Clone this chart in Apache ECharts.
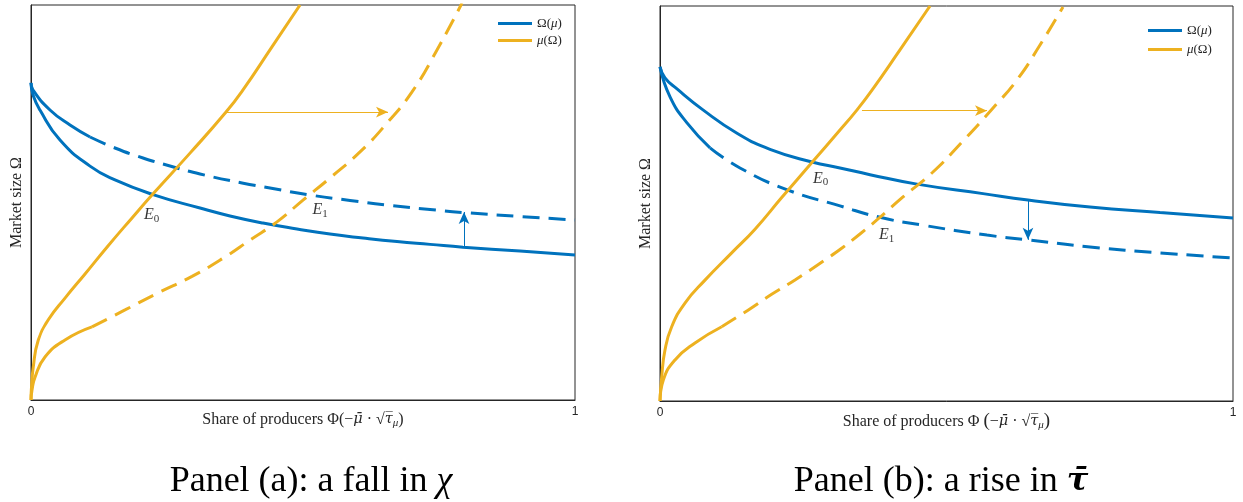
<!DOCTYPE html>
<html><head><meta charset="utf-8">
<script src="https://cdn.jsdelivr.net/npm/echarts@6/dist/echarts.min.js"></script>
<style>html,body{margin:0;padding:0;background:#fff}#c{width:1243px;height:502px}</style>
</head><body><div id="c"></div>
<script>
// ---------- Panel (a): a fall in chi ----------
const omega0A = [[0,0.803],[0.0037,0.772],[0.0165,0.734],[0.0533,0.658],[0.1085,0.592],[0.1544,0.557],[0.2243,0.52],[0.3107,0.486],[0.3658,0.466],[0.4265,0.448],[0.489,0.433],[0.5496,0.42],[0.6103,0.41],[0.6728,0.401],[0.7335,0.394],[0.7941,0.387],[0.8989,0.377],[1,0.367]];
const omega1A = [[0,0.8025],[0.0037,0.7848],[0.0349,0.7342],[0.0717,0.6962],[0.1085,0.6658],[0.1544,0.638],[0.2059,0.6127],[0.2555,0.5924],[0.3107,0.5722],[0.3879,0.5494],[0.4393,0.5367],[0.5129,0.519],[0.5864,0.5051],[0.6599,0.4924],[0.7335,0.4823],[0.7941,0.4747],[0.8989,0.4646],[1,0.4557]];
const mu0A = [[0,0],[0.0006,0.025],[0.0042,0.084],[0.0134,0.152],[0.0318,0.203],[0.0625,0.258],[0.0993,0.319],[0.1415,0.39],[0.1857,0.461],[0.2224,0.519],[0.2923,0.625],[0.3585,0.729],[0.3897,0.785],[0.442,0.892],[0.4945,1.0]];
const mu1A = [[0,0],[0.0018,0.025],[0.0074,0.058],[0.0257,0.109],[0.0625,0.152],[0.1121,0.185],[0.1728,0.228],[0.2335,0.271],[0.296,0.313],[0.3566,0.362],[0.4026,0.405],[0.4522,0.451],[0.5,0.506],[0.5496,0.562],[0.6048,0.628],[0.6544,0.701],[0.7004,0.78],[0.7463,0.886],[0.7923,1.005]];
const muArrowA = [[0.3603,0.729],[0.6563,0.729]];
const omegaArrowA = [[0.796,0.387],[0.796,0.476]];
const eqLabelsA = [[0.2219,0.468,'0'],[0.5313,0.481,'1']];

// ---------- Panel (b): a rise in tau-bar ----------
const omega0B = [[0,0.846],[0.0087,0.818],[0.0297,0.79],[0.075,0.737],[0.1344,0.678],[0.192,0.637],[0.2653,0.605],[0.3141,0.59],[0.3665,0.573],[0.4485,0.549],[0.5637,0.525],[0.6422,0.509],[0.7504,0.491],[0.8726,0.477],[1,0.463]];
const omega1B = [[0,0.846],[0.0175,0.77],[0.0471,0.704],[0.0873,0.641],[0.1396,0.59],[0.2234,0.534],[0.3141,0.494],[0.3839,0.465],[0.459,0.445],[0.5707,0.42],[0.6422,0.408],[0.7504,0.39],[0.8726,0.375],[1,0.362]];
const mu0B = [[0,0],[0.003,0.0615],[0.0087,0.129],[0.0204,0.188],[0.0436,0.248],[0.0785,0.306],[0.1251,0.375],[0.1658,0.435],[0.2124,0.515],[0.2647,0.603],[0.3141,0.686],[0.3421,0.734],[0.37,0.787],[0.4188,0.889],[0.4712,1.0]];
const mu1B = [[0,0],[0.0058,0.053],[0.0262,0.104],[0.0611,0.147],[0.1077,0.188],[0.1536,0.23],[0.1949,0.27],[0.2356,0.3063],[0.2827,0.3519],[0.3176,0.3873],[0.349,0.4228],[0.3805,0.4608],[0.4241,0.5165],[0.4764,0.5797],[0.5288,0.6582],[0.5812,0.7418],[0.623,0.8127],[0.6632,0.9013],[0.7033,0.9975]];
const muArrowB = [[0.3525,0.735],[0.5707,0.735]];
const omegaArrowB = [[0.6422,0.509],[0.6422,0.408]];
const eqLabelsB = [[0.2805,0.5638,'0'],[0.3956,0.4203,'1']];

// ticks
const xTicks = [0, 1];

// styling (not data)
const BLUE = '#0072BD', YEL = '#EDB120', TXT = '#262626';
const SERIF = '"Liberation Serif", "DejaVu Serif", serif';
const MATH = '"DejaVu Serif", serif';
const SANS = '"Liberation Sans", Arial, sans-serif';
const DASH = [17, 9];
const SPLIT = {omega1A: 4, mu1A: 5, omega1B: 3, mu1B: 4};

function line(name, data, idx, color, dashed) {
  return {
    type: 'line', name, data, xAxisIndex: idx, yAxisIndex: idx,
    symbol: 'none', smooth: 0.5, clip: true, silent: true,
    lineStyle: {color, width: 3, type: dashed ? DASH : 'solid', cap: 'butt'},
    itemStyle: {color}
  };
}
function arrow(pts, color) {
  return {
    silent: true, symbol: ['none', 'arrow'], symbolSize: [8, 12],
    label: {show: false}, animation: false,
    lineStyle: {color, width: 1, type: 'solid'},
    data: [[{coord: pts[0]}, {coord: pts[1]}]]
  };
}
function panel(idx, om0, om1, m0, m1, sOm, sMu, omArr, muArr, labels) {
  const s0 = line('Ω(μ)', om0, idx, BLUE, false); s0.markLine = arrow(omArr, BLUE);
  const s1 = line('Ω1s' + idx, om1.slice(0, sOm + 1), idx, BLUE, false);
  const s2 = line('Ω1d' + idx, om1.slice(sOm), idx, BLUE, true);
  const s3 = line('μ(Ω)', m0, idx, YEL, false); s3.markLine = arrow(muArr, YEL);
  const s4 = line('μ1s' + idx, m1.slice(0, sMu + 1), idx, YEL, false);
  const s5 = line('μ1d' + idx, m1.slice(sMu), idx, YEL, true);
  const lab = {
    type: 'scatter', name: 'E' + idx, xAxisIndex: idx, yAxisIndex: idx, silent: true,
    symbolSize: 0, data: labels.map(d => [d[0], d[1], d[2]]),
    label: {
      show: true, position: 'inside', color: '#000',
      formatter: p => '{e|E}{s|' + p.data[2] + '}',
      rich: {
        e: {fontFamily: SERIF, fontStyle: 'italic', fontSize: 16, lineHeight: 19, verticalAlign: 'middle', color: '#000'},
        s: {fontFamily: SERIF, fontSize: 11, lineHeight: 11, verticalAlign: 'bottom', color: '#000'}
      }
    }
  };
  return [s0, s1, s2, s3, s4, s5, lab];
}

const nameRich = {
  i: {fontFamily: MATH, fontStyle: 'italic', fontSize: 14.5, color: TXT, lineHeight: 19, verticalAlign: 'middle'},
  s: {fontFamily: SERIF, fontStyle: 'italic', fontSize: 11, color: TXT, lineHeight: 11, verticalAlign: 'bottom'},
  n: {fontFamily: SERIF, fontSize: 16, color: TXT, lineHeight: 19, verticalAlign: 'middle'},
  p: {fontFamily: SERIF, fontSize: 19, color: TXT, lineHeight: 19, verticalAlign: 'middle'}
};

function xAxis(idx, name, gap) {
  return {
    type: 'value', gridIndex: idx, min: xTicks[0], max: xTicks[xTicks.length - 1], interval: 1,
    name, nameLocation: 'middle', nameGap: gap, nameMoveOverlap: false,
    nameTextStyle: {fontFamily: SERIF, fontSize: 16, color: TXT, rich: nameRich},
    axisLine: {show: true, onZero: false, lineStyle: {color: TXT, width: 1}},
    axisTick: {show: false}, splitLine: {show: false},
    axisLabel: {show: true, margin: 6, fontFamily: SANS, fontSize: 12, color: TXT}
  };
}
function yAxis(idx) {
  return {
    type: 'value', gridIndex: idx, min: 0, max: 1,
    name: 'Market size Ω', nameLocation: 'middle', nameGap: 6,
    nameTextStyle: {fontFamily: SERIF, fontSize: 16, color: TXT},
    axisLine: {show: true, lineStyle: {color: TXT, width: 1}},
    axisTick: {show: false}, axisLabel: {show: false}, splitLine: {show: false}
  };
}
function legend(left, top, gap) {
  return {
    data: ['Ω(μ)', 'μ(Ω)'], orient: 'vertical', left, top, itemWidth: 34, itemHeight: 3,
    icon: 'rect', itemGap: gap, selectedMode: false, padding: 0,
    formatter: n => n === 'Ω(μ)' ? '{n|Ω(}{i|μ}{n|)}' : '{i|μ}{n|(Ω)}',
    textStyle: {fontFamily: SERIF, fontSize: 13, color: TXT, lineHeight: 15, rich: {
      n: {fontFamily: SERIF, fontSize: 13, lineHeight: 15, color: TXT},
      i: {fontFamily: SERIF, fontStyle: 'italic', fontSize: 13, lineHeight: 15, color: TXT}
    }}
  };
}

const chart = echarts.init(document.getElementById('c'), null, {renderer: 'canvas'});
chart.setOption({
  animation: false,
  backgroundColor: '#fff',
  title: [
    {text: 'Panel (a): a fall in {i|χ}', left: 311, top: 464, textAlign: 'center', padding: 0,
     textStyle: {fontFamily: SERIF, fontSize: 36, fontWeight: 'normal', color: '#000',
       rich: {i: {fontFamily: SERIF, fontStyle: 'italic', fontSize: 36, color: '#000'}}}},
    {text: 'Panel (b): a rise in {t|τ̄}', left: 941, top: 464, textAlign: 'center', padding: 0,
     textStyle: {fontFamily: SERIF, fontSize: 36, fontWeight: 'normal', color: '#000',
       rich: {t: {fontFamily: MATH, fontStyle: 'italic', fontWeight: 'bold', fontSize: 32, color: '#000'}}}}
  ],
  legend: [legend(498, 16, 2), legend(1148, 23, 4)],
  grid: [
    {left: 31, top: 5, width: 544, height: 395, show: true, borderColor: TXT, borderWidth: 1, backgroundColor: 'transparent'},
    {left: 660, top: 6, width: 573, height: 395, show: true, borderColor: TXT, borderWidth: 1, backgroundColor: 'transparent'}
  ],
  xAxis: [
    xAxis(0, '{n|Share of producers Φ(−}{i|μ̄}{n| · √}{i|τ̅}{s|μ}{n|)}', 10),
    xAxis(1, '{n|Share of producers Φ }{p|(}{n|−}{i|μ̄}{n| · √}{i|τ̅}{s|μ}{p|)}', 11)
  ],
  yAxis: [yAxis(0), yAxis(1)],
  series: [
    ...panel(0, omega0A, omega1A, mu0A, mu1A, SPLIT.omega1A, SPLIT.mu1A, omegaArrowA, muArrowA, eqLabelsA),
    ...panel(1, omega0B, omega1B, mu0B, mu1B, SPLIT.omega1B, SPLIT.mu1B, omegaArrowB, muArrowB, eqLabelsB)
  ]
});
</script>
</body></html>
